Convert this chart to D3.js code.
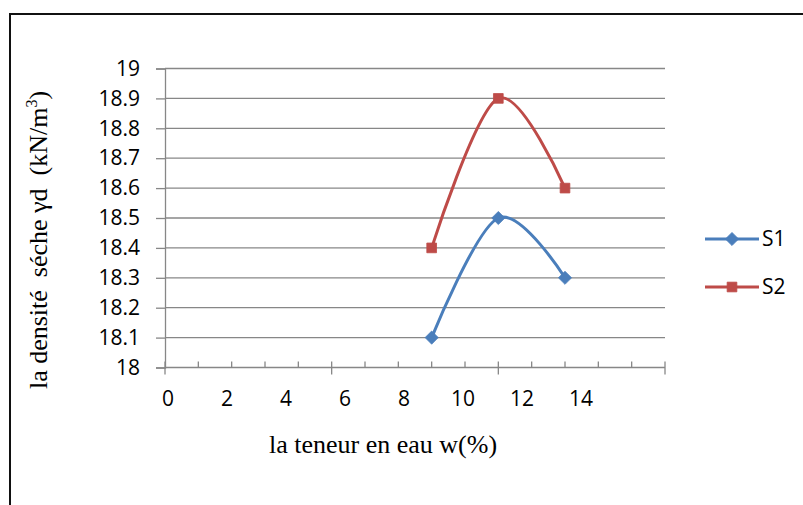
<!DOCTYPE html>
<html>
<head>
<meta charset="utf-8">
<script src="https://cdn.jsdelivr.net/npm/d3@7"></script>
<style>
  html, body { margin: 0; padding: 0; background: #fff; }
  svg { display: block; }
  .serif { font-family: "Liberation Serif", "Times New Roman", serif; white-space: pre; }
  .sans { font-family: "Open Sans", "Liberation Sans", sans-serif; }
</style>
</head>
<body>
<svg id="chart" width="803" height="505"></svg>
<script>
// Water content (x) and dry density (y) for the two samples
const waterContent = [8, 10, 12];
const densityS1 = [18.1, 18.5, 18.3];
const densityS2 = [18.4, 18.9, 18.6];
const seriesNames = ["S1", "S2"];
const seriesColors = ["#4A7EBB", "#BE4B48"];
const yTicks = [18, 18.1, 18.2, 18.3, 18.4, 18.5, 18.6, 18.7, 18.8, 18.9, 19];
const xTickLabels = [0, 2, 4, 6, 8, 10, 12, 14];

const svg = d3.select("#chart");

// outer frame
svg.append("rect")
  .attr("x", 10).attr("y", 14)
  .attr("width", 800).attr("height", 500)
  .attr("fill", "none").attr("stroke", "#111").attr("stroke-width", 2);

const x = d3.scaleLinear().domain([0, 15]).range([165, 665]);
const y = d3.scaleLinear().domain([18, 19]).range([367.5, 68.5]);
const xLabel = d3.scaleLinear().domain([0, 14]).range([168, 581]);

const gridColor = "#878787";

// horizontal gridlines
svg.append("g").selectAll("line").data(yTicks.slice(1)).join("line")
  .attr("x1", x(0)).attr("x2", x(15))
  .attr("y1", d => y(d)).attr("y2", d => y(d))
  .attr("stroke", gridColor).attr("stroke-width", 1.3);

// y axis
const yAxis = svg.append("g").attr("transform", `translate(${x(0)},0)`)
  .call(d3.axisLeft(y).tickValues(yTicks).tickSize(9).tickPadding(16)
    .tickFormat(d => d3.format("")(+d.toFixed(1))));
yAxis.select(".domain").attr("stroke", gridColor).attr("stroke-width", 1.3);
yAxis.selectAll(".tick line").attr("stroke", gridColor).attr("stroke-width", 1.3);
yAxis.selectAll(".tick text").attr("class", "sans").attr("font-size", 21).attr("fill", "#000");

// x axis line with minor and major tick marks
const xAxis = svg.append("g");
xAxis.append("line")
  .attr("x1", x(0)).attr("x2", x(15))
  .attr("y1", y(18)).attr("y2", y(18))
  .attr("stroke", gridColor).attr("stroke-width", 1.3);
xAxis.selectAll(".minor").data(d3.range(0, 16)).join("line")
  .attr("x1", d => x(d)).attr("x2", d => x(d))
  .attr("y1", y(18) - 6)
  .attr("y2", d => d % 5 === 0 ? y(18) + 7 : y(18))
  .attr("stroke", gridColor).attr("stroke-width", 1.3);

// x tick labels
svg.append("g").selectAll("text").data(xTickLabels).join("text")
  .attr("class", "sans").attr("font-size", 21)
  .attr("x", d => xLabel(d)).attr("y", 405.5)
  .attr("text-anchor", "middle").text(d => d);

// axis titles
svg.append("text").attr("class", "serif").attr("font-size", 26)
  .attr("x", 383).attr("y", 453).attr("text-anchor", "middle")
  .text("la teneur en eau w(%)");

const yTitle = svg.append("text").attr("class", "serif").attr("font-size", 26)
  .attr("transform", "translate(47,240) rotate(-90)")
  .attr("text-anchor", "middle");
yTitle.append("tspan").text("la densité  séche γd  (kN/m");
yTitle.append("tspan").attr("font-size", 16).attr("dy", -10).text("3");
yTitle.append("tspan").attr("dy", 10).text(")");

// series
const series = [densityS1, densityS2].map((vals, i) => ({
  name: seriesNames[i], color: seriesColors[i],
  points: waterContent.map((w, j) => [w, vals[j]])
}));

const line = d3.line()
  .x(d => x(d[0])).y(d => y(d[1]))
  .curve(d3.curveCardinal.tension(0));

const diamond = d3.symbol().type(d3.symbolDiamond2).size(110);
const square = d3.symbol().type(d3.symbolSquare2).size(120);

series.forEach((s, i) => {
  const g = svg.append("g");
  g.append("path").attr("d", line(s.points))
    .attr("fill", "none").attr("stroke", s.color).attr("stroke-width", 3);
  g.selectAll("path.m").data(s.points).join("path").attr("class", "m")
    .attr("transform", d => `translate(${x(d[0])},${y(d[1])})`)
    .attr("d", i === 0 ? diamond() : square())
    .attr("fill", s.color).attr("stroke", s.color).attr("stroke-width", 0.8);

  // legend entry
  const ly = 239 + i * 48;
  const lg = svg.append("g").attr("transform", `translate(705,${ly})`);
  lg.append("line").attr("x1", 0).attr("x2", 54).attr("y1", 0).attr("y2", 0)
    .attr("stroke", s.color).attr("stroke-width", 3);
  lg.append("path").attr("transform", "translate(27,0)")
    .attr("d", i === 0 ? diamond() : square())
    .attr("fill", s.color).attr("stroke", s.color).attr("stroke-width", 0.8);
  lg.append("text").attr("class", "sans").attr("font-size", 21)
    .attr("x", 57).attr("y", 0).attr("dy", "0.35em").text(s.name);
});
</script>
</body>
</html>
